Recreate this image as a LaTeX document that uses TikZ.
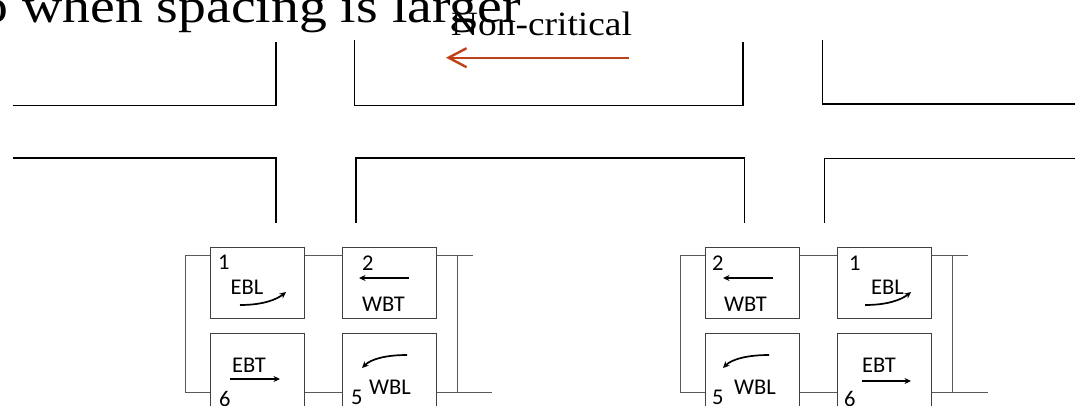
\documentclass[tikz,border=0pt]{standalone}
\usepackage{fontspec}
\usepackage{graphicx}
\setmainfont{Liberation Serif}
\newfontfamily\boxfont{Carlito}
\usetikzlibrary{arrows.meta}
\definecolor{ncred}{RGB}{192,64,26}
\begin{document}
\begin{tikzpicture}[x=1pt,y=-1pt,
  road/.style={line width=1.8pt, black},
  ring/.style={line width=1pt, black!65},
  sigbox/.style={draw=black!75, line width=1pt, fill=white, minimum width=94pt, minimum height=71pt, inner sep=0pt},
  lowbox/.style={sigbox, minimum height=80pt},
  lbl/.style={font=\boxfont\fontsize{22.5}{25}\selectfont, inner sep=0pt, anchor=base west},
  mv/.style={line width=1.7pt, -{Stealth[length=6.5pt,width=6pt]}},
  redarrow/.style={line width=2.4pt, ncred, -{Straight Barb[length=18pt,width=19pt]}}
]
\useasboundingbox (0,0) rectangle (1075,405);

% title and label
\node[anchor=base east, inner sep=0pt] (title) at (521,22.7)
  {\scalebox{1.16}[1]{\fontsize{48}{50}\selectfont o when spacing is larger}};
\node[anchor=base west, inner sep=0pt] (nc) at (451,35)
  {\scalebox{1.1}[1]{\fontsize{34}{36}\selectfont Non-critical}};
\coordinate (ncs) at (629,57.7);
\coordinate (nce) at (446,57.7);
\draw[redarrow] (ncs) -- (nce);

% roads
\draw[road] (13,105.5) -- (276,105.5) -- (276,41.7);
\draw[road] (354.5,39.5) -- (354.5,105.5) -- (743,105.5) -- (743,41.5);
\draw[road] (822.5,39.5) -- (822.5,104) -- (1075,104);
\draw[road] (13,157.7) -- (276,157.7) -- (276,223);
\draw[road] (356,223) -- (356,158) -- (744.5,158) -- (744.5,223);
\draw[road] (824.5,223) -- (824.5,158.5) -- (1075,158.5);

% rings
\draw[ring] (473,255) -- (185,255) -- (185,392) -- (492,392);
\draw[ring] (457,255) -- (457,392);
\draw[ring] (968,255) -- (680,255) -- (680,392) -- (988,392);
\draw[ring] (952,255) -- (952,392);

% boxes left
\node[sigbox] (L1) at (257,282.5) {};
\node[sigbox] (L2) at (389,282.5) {};
\node[lowbox] (L6) at (257,373) {};
\node[lowbox] (L5) at (389,373) {};
% boxes right
\node[sigbox] (R2) at (752,282.5) {};
\node[sigbox] (R1) at (884,282.5) {};
\node[lowbox] (R5) at (752,373) {};
\node[lowbox] (R6) at (884,373) {};

% labels left
\node[lbl] (l1n) at (218,269) {1};
\node[lbl] (l1t) at (230.5,294) {EBL};
\node[lbl] (l2n) at (362,270) {2};
\node[lbl] (l2t) at (362,311.5) {WBT};
\node[lbl] (l6t) at (232,372) {EBT};
\node[lbl] (l6n) at (219,406) {6};
\node[lbl] (l5n) at (351,404) {5};
\node[lbl] (l5t) at (369,394) {WBL};
% labels right
\node[lbl] (r2n) at (712,270) {2};
\node[lbl] (r2t) at (724,311.5) {WBT};
\node[lbl] (r1n) at (849,270) {1};
\node[lbl] (r1t) at (871,294) {EBL};
\node[lbl] (r5t) at (734,394) {WBL};
\node[lbl] (r5n) at (712,404) {5};
\node[lbl] (r6t) at (862,372) {EBT};
\node[lbl] (r6n) at (844,406) {6};

% movement arrows left
\draw[mv] (240,305) .. controls (262,305) and (276,300) .. (286,292);
\draw[mv] (409,278) -- (359,278);
\draw[mv] (230,379) -- (280,379);
\draw[mv] (407,355) .. controls (386,355) and (371,359) .. (362,368);
% movement arrows right
\draw[mv] (773,278) -- (723,278);
\draw[mv] (865,305) .. controls (887,305) and (901,300) .. (911,292);
\draw[mv] (769,355) .. controls (748,355) and (732,359) .. (723,368);
\draw[mv] (862,381) -- (911,381);
\end{tikzpicture}
\end{document}
